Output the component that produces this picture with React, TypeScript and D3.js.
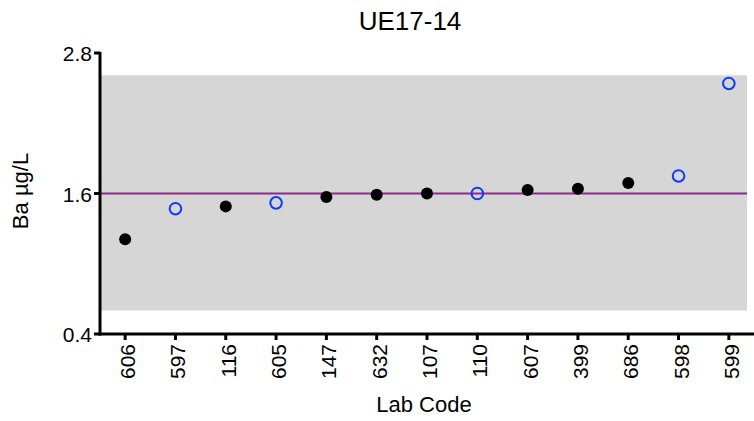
import React from "react";
import * as d3 from "d3";

const labCodes = ["606", "597", "116", "605", "147", "632", "107", "110", "607", "399", "686", "598", "599"];
const baValues = [1.21, 1.47, 1.49, 1.52, 1.57, 1.59, 1.6, 1.6, 1.63, 1.64, 1.69, 1.75, 2.54];
// true = open blue circle, false = filled black dot
const openMarker = [false, true, false, true, false, false, false, true, false, false, false, true, true];
const yTicks = [0.4, 1.6, 2.8];
const assignedValue = 1.6;
const bandRange = [0.6, 2.61];

const App = () => {
  const width = 754;
  const height = 421;
  const margin = { top: 53, right: 0, bottom: 87, left: 100 };
  const font = "'Liberation Sans', Arial, sans-serif";

  const xScale = d3.scalePoint<string>()
    .domain(labCodes)
    .range([margin.left, width - margin.right])
    .padding(0.5);

  const yScale = d3.scaleLinear()
    .domain([0.4, 2.8])
    .range([height - margin.bottom, margin.top]);

  const y0 = yScale(0.4);

  return (
    <svg width={width} height={height} style={{ position: "absolute", left: 0, top: 0 }} fontFamily={font}>
      {/* acceptance band */}
      <rect
        x={margin.left}
        y={yScale(bandRange[1])}
        width={747 - margin.left}
        height={yScale(bandRange[0]) - yScale(bandRange[1])}
        fill="#d6d6d6"
      />
      {/* assigned value */}
      <line
        x1={margin.left}
        x2={747}
        y1={yScale(assignedValue)}
        y2={yScale(assignedValue)}
        stroke="#92278f"
        strokeWidth={2}
      />

      {/* points */}
      {labCodes.map((code, i) => openMarker[i] ? (
        <circle key={code} cx={xScale(code)} cy={yScale(baValues[i])} r={5.8} fill="none" stroke="#0a3cff" strokeWidth={2} />
      ) : (
        <circle key={code} cx={xScale(code)} cy={yScale(baValues[i])} r={6} fill="#000" />
      ))}

      {/* Y axis */}
      <line x1={margin.left} x2={margin.left} y1={margin.top - 1} y2={y0 + 1.5} stroke="#000" strokeWidth={3} />
      {yTicks.map((t) => (
        <g key={t} transform={`translate(${margin.left},${yScale(t)})`}>
          <line x1={-6} x2={0} stroke="#000" strokeWidth={3} />
          <text x={-8} y={8} textAnchor="end" fontSize={21}>{t.toFixed(1)}</text>
        </g>
      ))}

      {/* X axis */}
      <line x1={margin.left - 1.5} x2={width} y1={y0} y2={y0} stroke="#000" strokeWidth={3} />
      {labCodes.map((code) => (
        <g key={code} transform={`translate(${xScale(code)},${y0})`}>
          <line y1={0} y2={6} stroke="#000" strokeWidth={3} />
          <text transform="rotate(-90)" x={-10} y={10} textAnchor="end" fontSize={21}>{code}</text>
        </g>
      ))}

      {/* titles */}
      <text x={410} y={30} textAnchor="middle" fontSize={26}>UE17-14</text>
      <text transform="translate(28,191) rotate(-90)" textAnchor="middle" fontSize={22}>Ba µg/L</text>
      <text x={424} y={412} textAnchor="middle" fontSize={22}>Lab Code</text>
    </svg>
  );
};

export default App;
